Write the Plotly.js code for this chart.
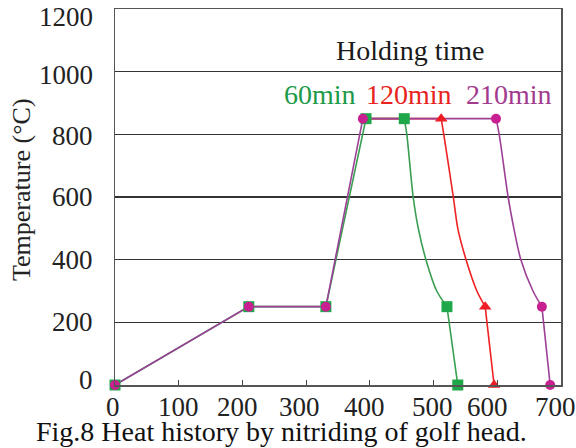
<!DOCTYPE html>
<html>
<head>
<meta charset="utf-8">
<script src="https://cdn.plot.ly/plotly-3.0.1.min.js"></script>
<style>html,body{margin:0;padding:0;background:#fff;}#chart{width:576px;height:448px;}</style>
</head>
<body>
<div id="chart"></div>
<script>
// Time (min) and temperature (°C)
// Common heating stage (drawn with the 210 min trace on top)
const heatTime = [0, 210, 331, 389];
const heatTemp = [0, 250, 250, 850];

// 60 min holding
const g60Time = [0, 210, 331, 394, 454];
const g60Temp = [0, 250, 250, 850, 850];
const g60CoolTime = [454, 458, 468, 476, 488, 505, 521];
const g60CoolTemp = [850, 800, 600, 500, 400, 300, 250];
const g60QuenchTime = [521, 538];
const g60QuenchTemp = [250, 0];
const g60MarkTime = [0, 210, 331, 394, 454, 521, 538];
const g60MarkTemp = [0, 250, 250, 850, 850, 250, 0];

// 120 min holding
const r120Time = [389, 512];
const r120Temp = [850, 850];
const r120CoolTime = [512, 516, 531, 538, 551, 568, 581];
const r120CoolTemp = [850, 800, 600, 500, 400, 300, 250];
const r120QuenchTime = [581, 595];
const r120QuenchTemp = [250, 0];
const r120MarkTime = [512, 581, 595];
const r120MarkTemp = [850, 250, 0];

// 210 min holding
const p210Time = [389, 598];
const p210Temp = [850, 850];
const p210CoolTime = [598, 603, 617, 626, 637, 656, 670];
const p210CoolTemp = [850, 800, 600, 500, 400, 300, 250];
const p210QuenchTime = [670, 683];
const p210QuenchTemp = [250, 0];
const p210MarkTime = [0, 210, 331, 389, 598, 670, 683];
const p210MarkTemp = [0, 250, 250, 850, 850, 250, 0];

// Axis ticks and their printed labels (labels sit slightly off the ticks in the original)
const xTicks = [0, 100, 200, 300, 400, 500, 600, 700];
const xTickLabels = ['0', '100', '200', '300', '400', '500', '600', '700'];
const xLabelAt = [0, 99, 193, 290, 392, 499, 585, 692];
const yTicks = [0, 200, 400, 600, 800, 1000, 1200];
const yTickLabels = ['0', '200', '400', '600', '800', '1000', '1200'];
const yLabelAt = [15, 200, 400, 600, 795, 990, 1175];

const GREEN_L = '#3a9e52', GREEN_M = '#1fa84a';
const RED_L = '#ee2222', RED_M = '#ee1c24';
const PUR_L = '#9c4096', PUR_M = '#c82090';

function line(x, y, color, shape) {
  return {x: x, y: y, type: 'scatter', mode: 'lines', hoverinfo: 'skip', showlegend: false,
          cliponaxis: false,
          line: {color: color, width: 1.6, shape: shape || 'linear', smoothing: 0.8}};
}
function marks(x, y, symbol, color, size) {
  return {x: x, y: y, type: 'scatter', mode: 'markers', hoverinfo: 'skip', showlegend: false,
          cliponaxis: false,
          marker: {symbol: symbol, color: color, size: size, line: {width: 0}}};
}

const traces = [
  line(g60Time, g60Temp, GREEN_L),
  line(g60CoolTime, g60CoolTemp, GREEN_L, 'spline'),
  line(g60QuenchTime, g60QuenchTemp, GREEN_L),
  line(r120Time, r120Temp, RED_L),
  line(r120CoolTime, r120CoolTemp, RED_L, 'spline'),
  line(r120QuenchTime, r120QuenchTemp, RED_L),
  line(heatTime, heatTemp, PUR_L),
  line(p210Time, p210Temp, PUR_L),
  line(p210CoolTime, p210CoolTemp, PUR_L, 'spline'),
  line(p210QuenchTime, p210QuenchTemp, PUR_L),
  marks(g60MarkTime, g60MarkTemp, 'square', GREEN_M, 11),
  marks(r120MarkTime, r120MarkTemp, 'triangle-up', RED_M, 11),
  marks(p210MarkTime, p210MarkTemp, 'circle', PUR_M, 10)
];

const SERIF = 'Liberation Serif, Times New Roman, serif';
const TXT = '#222';

const annotations = [
  {x: 463, y: 1069, xref: 'x', yref: 'y', text: 'Holding time', showarrow: false,
   font: {family: SERIF, size: 28, color: '#1a1a1a'}},
  {x: 322, y: 926, xref: 'x', yref: 'y', text: '60min', showarrow: false,
   font: {family: SERIF, size: 28, color: '#1c9a48'}},
  {x: 461, y: 926, xref: 'x', yref: 'y', text: '120min', showarrow: false,
   font: {family: SERIF, size: 28, color: '#e8231e'}},
  {x: 618, y: 926, xref: 'x', yref: 'y', text: '210min', showarrow: false,
   font: {family: SERIF, size: 28, color: '#a23a8e'}},
  {x: 0, y: 0.5, xref: 'paper', yref: 'paper', xanchor: 'center', yanchor: 'middle',
   xshift: -94, yshift: 7, textangle: -90, text: 'Temperature (°C)', showarrow: false,
   font: {family: SERIF, size: 26, color: TXT}},
  {x: 0.5, y: 0, xref: 'paper', yref: 'paper', xanchor: 'center', yanchor: 'middle',
   yshift: -46, xshift: -57,
   text: 'Fig.8 Heat history by nitriding of golf head.', showarrow: false,
   font: {family: SERIF, size: 28, color: '#111'}}
];
xTickLabels.forEach(function (t, i) {
  annotations.push({x: xLabelAt[i], y: 0, xref: 'x', yref: 'paper', xanchor: 'center',
    yanchor: 'middle', yshift: -22, xshift: (i === 0 ? -2 : 0), text: t, showarrow: false,
    font: {family: SERIF, size: 27, color: TXT}});
});
yTickLabels.forEach(function (t, i) {
  annotations.push({x: 0, y: yLabelAt[i], xref: 'paper', yref: 'y', xanchor: 'right',
    yanchor: 'middle', xshift: -20, text: t, showarrow: false,
    font: {family: SERIF, size: 27, color: TXT}});
});

const layout = {
  width: 576, height: 448,
  margin: {l: 115, r: 15, t: 9, b: 63},
  paper_bgcolor: '#ffffff', plot_bgcolor: '#ffffff',
  font: {family: SERIF, size: 26, color: TXT},
  xaxis: {
    range: [0, 700], tickvals: xTicks, showticklabels: false,
    ticks: 'inside', ticklen: 5, tickwidth: 1.2, tickcolor: '#444',
    showgrid: false, zeroline: false,
    showline: true, mirror: true, linecolor: '#555', linewidth: 1.5
  },
  yaxis: {
    range: [0, 1200], tickvals: yTicks, showticklabels: false,
    ticks: '', showgrid: true, gridcolor: '#333333', gridwidth: 1.6,
    zeroline: false, showline: true, mirror: true, linecolor: '#555', linewidth: 1.5
  },
  annotations: annotations
};

Plotly.newPlot('chart', traces, layout, {displayModeBar: false, staticPlot: true});
</script>
</body>
</html>
